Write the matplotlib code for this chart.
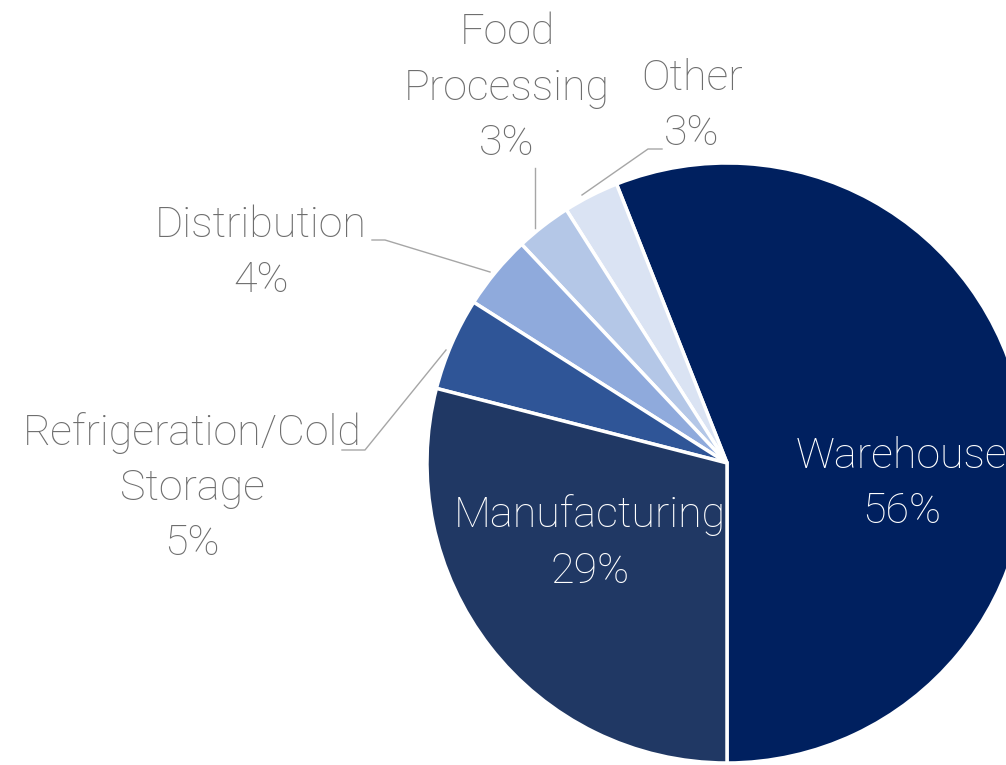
import matplotlib.pyplot as plt

# data
categories = ['Warehouse', 'Other', 'Food\nProcessing', 'Distribution',
              'Refrigeration/Cold\nStorage', 'Manufacturing']
shares = [56, 3, 3, 4, 5, 29]
colors = ['#00205f', '#dae3f3', '#b4c7e7', '#8faadc', '#2f5597', '#203864']

plt.rcParams['font.family'] = ['Roboto', 'DejaVu Sans']

fig = plt.figure(figsize=(10.06, 7.65), dpi=100)
ax = fig.add_axes([0, 0, 1, 1])

cx, cy, r = 727, 302, 300
ax.pie(shares, colors=colors, startangle=-90, counterclock=True,
       center=(cx, cy), radius=r, frame=True,
       wedgeprops=dict(edgecolor='white', linewidth=2.5))
ax.set_xlim(0, 1006)
ax.set_ylim(0, 765)
ax.set_aspect('equal')
ax.axis('off')

# label positions in pixels (x, y from top), inside flag
label_pos = [(902, 484, True), (692, 106, False), (507, 88, False),
             (261, 253, False), (192, 488, False), (590, 543, True)]
grey = '#6e6e6e'
for cat, v, (x, y, inside) in zip(categories, shares, label_pos):
    ax.text(x, 765 - y, cat + '\n' + str(v) + '%', ha='center', va='center',
            fontsize=31, fontweight='light', linespacing=1.45,
            color='white' if inside else grey)

# leader lines
leaders = [
    [(582, 195), (648, 149), (662, 149)],
    [(535, 228), (535, 168)],
    [(490, 272), (385, 240), (372, 240)],
    [(446, 350), (365, 450), (342, 450)],
]
for pts in leaders:
    xs = [p[0] for p in pts]
    ys = [765 - p[1] for p in pts]
    ax.plot(xs, ys, color='#a6a6a6', linewidth=1)

fig.savefig('out.png', dpi=100)
